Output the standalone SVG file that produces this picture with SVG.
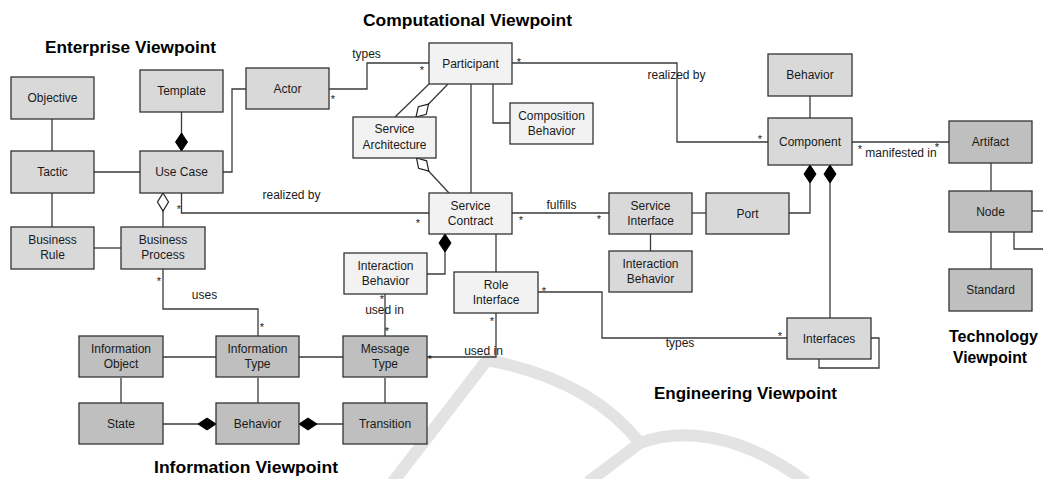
<svg xmlns="http://www.w3.org/2000/svg" width="1043" height="479" viewBox="0 0 1043 479">
<defs>
<style>
.n rect{stroke:#333;stroke-width:1.3}
.e{fill:#d9d9d9}.c{fill:#f2f2f2}.i{fill:#bfbfbf}
text{font-family:"Liberation Sans",Arial,sans-serif;fill:#1a1a1a}
.n text,.lbl{font-size:12px;text-anchor:middle}
.st{font-size:11px;text-anchor:middle}
.ttl{font-size:17px;font-weight:bold;fill:#000}
#connectors path{fill:none;stroke:#3a3a3a;stroke-width:1.3}
.wm{fill:none;stroke:#e3e3e3;stroke-width:12;stroke-linecap:butt}
</style>
<marker id="dF" markerUnits="userSpaceOnUse" markerWidth="20" markerHeight="14" viewBox="-1 -7 20 14" refX="0" refY="0" orient="auto" overflow="visible"><path d="M0,0 L9,-6 L18,0 L9,6 Z" fill="#000" stroke="#000" stroke-width="1"/></marker>
<marker id="dH" markerUnits="userSpaceOnUse" markerWidth="20" markerHeight="14" viewBox="-1 -7 20 14" refX="0" refY="0" orient="auto" overflow="visible"><path d="M0,0 L9,-5.5 L18,0 L9,5.5 Z" fill="#fff" stroke="#222" stroke-width="1.2"/></marker>
</defs>
<rect width="1043" height="479" fill="#fff"/>
<g id="watermark">
<path class="wm" d="M393,482 L487,360 C540,370 600,392 640,443"/>
<path class="wm" d="M588,482 L640,443 C680,428 740,432 806,482"/>
</g>
<g id="titles">
<text class="ttl" x="45" y="53" textLength="171" lengthAdjust="spacingAndGlyphs">Enterprise Viewpoint</text>
<text class="ttl" x="363" y="26" textLength="209" lengthAdjust="spacingAndGlyphs">Computational Viewpoint</text>
<text class="ttl" x="654" y="399" textLength="183" lengthAdjust="spacingAndGlyphs">Engineering Viewpoint</text>
<text class="ttl" x="949" y="342" textLength="89" lengthAdjust="spacingAndGlyphs">Technology</text>
<text class="ttl" x="953" y="363" textLength="74" lengthAdjust="spacingAndGlyphs">Viewpoint</text>
<text class="ttl" x="154" y="473" textLength="184" lengthAdjust="spacingAndGlyphs">Information Viewpoint</text>
</g>
<g id="connectors">
<path d="M52,119 V151"/>
<path d="M94,172 H140"/>
<path d="M52,193 V227"/>
<path d="M94,248 H121"/>
<path d="M181.5,151 V112" marker-start="url(#dF)"/>
<path d="M163,193 V227" marker-start="url(#dH)"/>
<path d="M223,172 H232 V89 H246"/>
<path d="M329,89 H367 V63 H429"/>
<path d="M181.5,193 V213 H429"/>
<path d="M429,84 L395,117"/>
<path d="M416,117 L448,84" marker-start="url(#dH)"/>
<path d="M416.5,158 L449,193" marker-start="url(#dH)"/>
<path d="M471,84 V193"/>
<path d="M493,84 V123 H510"/>
<path d="M512,63 H677 V142 H768"/>
<path d="M810,96 V118"/>
<path d="M852,142 H949"/>
<path d="M991,163 V191"/>
<path d="M1032,211 H1043"/>
<path d="M1014,232 V249 H1043"/>
<path d="M991,232 V269"/>
<path d="M810,165 V213 H789" marker-start="url(#dF)"/>
<path d="M830,165 V318" marker-start="url(#dF)"/>
<path d="M871,338 H879 V368 H819 V359"/>
<path d="M512,213 H609"/>
<path d="M692,213 H706"/>
<path d="M650.5,234 V251"/>
<path d="M445,234 V274 H427" marker-start="url(#dF)"/>
<path d="M496,234 V272"/>
<path d="M538,292 H602 V338 H787"/>
<path d="M385,294 V336"/>
<path d="M496,313 V357 H427"/>
<path d="M163,269 V309 H258 V336"/>
<path d="M163,357 H216"/>
<path d="M299,357 H343"/>
<path d="M121,378 V403"/>
<path d="M258,378 V403"/>
<path d="M385,378 V403"/>
<path d="M216,424 H163" marker-start="url(#dF)"/>
<path d="M299,424 H343" marker-start="url(#dF)"/>
</g>
<g id="labels">
<text class="lbl" x="366.5" y="58">types</text>
<text class="lbl" x="291.5" y="199">realized by</text>
<text class="lbl" x="676.5" y="79">realized by</text>
<text class="lbl" x="901" y="157">manifested in</text>
<text class="lbl" x="561.5" y="209">fulfills</text>
<text class="lbl" x="680" y="347">types</text>
<text class="lbl" x="384.5" y="314">used in</text>
<text class="lbl" x="483.5" y="355">used in</text>
<text class="lbl" x="204.5" y="299">uses</text>
<text class="st" x="333" y="103">*</text>
<text class="st" x="422" y="74">*</text>
<text class="st" x="179" y="213">*</text>
<text class="st" x="418" y="227">*</text>
<text class="st" x="519" y="66">*</text>
<text class="st" x="760" y="143">*</text>
<text class="st" x="860" y="153">*</text>
<text class="st" x="937" y="151">*</text>
<text class="st" x="521" y="224">*</text>
<text class="st" x="599" y="223">*</text>
<text class="st" x="544" y="295">*</text>
<text class="st" x="780" y="340">*</text>
<text class="st" x="382" y="303">*</text>
<text class="st" x="387" y="335">*</text>
<text class="st" x="492" y="325">*</text>
<text class="st" x="430" y="363">*</text>
<text class="st" x="159" y="285">*</text>
<text class="st" x="262" y="331">*</text>
</g>
<g id="objective" class="n"><rect class="e" x="11" y="77" width="83" height="42"/><text x="52.5" y="102.3">Objective</text></g>
<g id="template" class="n"><rect class="e" x="140" y="70" width="83" height="42"/><text x="181.5" y="95.3">Template</text></g>
<g id="actor" class="n"><rect class="e" x="246" y="68" width="83" height="41"/><text x="287.5" y="92.8">Actor</text></g>
<g id="tactic" class="n"><rect class="e" x="11" y="151" width="83" height="42"/><text x="52.5" y="176.3">Tactic</text></g>
<g id="use-case" class="n"><rect class="e" x="140" y="151" width="83" height="42"/><text x="181.5" y="176.3">Use Case</text></g>
<g id="business-rule" class="n"><rect class="e" x="11" y="227" width="83" height="42"/><text x="52.5" y="244">Business</text><text x="52.5" y="259.3">Rule</text></g>
<g id="business-process" class="n"><rect class="e" x="121" y="227" width="84" height="42"/><text x="163" y="244">Business</text><text x="163" y="259.3">Process</text></g>
<g id="participant" class="n"><rect class="c" x="429" y="43" width="83" height="41"/><text x="470.5" y="67.8">Participant</text></g>
<g id="service-architecture" class="n"><rect class="c" x="353" y="117" width="83" height="41"/><text x="394.5" y="133">Service</text><text x="394.5" y="148.5">Architecture</text></g>
<g id="composition-behavior" class="n"><rect class="c" x="510" y="103" width="83" height="41"/><text x="551.5" y="119.5">Composition</text><text x="551.5" y="135">Behavior</text></g>
<g id="service-contract" class="n"><rect class="c" x="429" y="193" width="83" height="41"/><text x="470.5" y="209.5">Service</text><text x="470.5" y="225">Contract</text></g>
<g id="service-interface" class="n"><rect class="e" x="609" y="193" width="83" height="41"/><text x="650.5" y="209.5">Service</text><text x="650.5" y="225">Interface</text></g>
<g id="interaction-behavior-eng" class="n"><rect class="e" x="609" y="251" width="83" height="41"/><text x="650.5" y="267.5">Interaction</text><text x="650.5" y="283">Behavior</text></g>
<g id="port" class="n"><rect class="e" x="706" y="193" width="83" height="41"/><text x="747.5" y="217.8">Port</text></g>
<g id="interaction-behavior-comp" class="n"><rect class="c" x="344" y="253" width="83" height="41"/><text x="385.5" y="269.5">Interaction</text><text x="385.5" y="285">Behavior</text></g>
<g id="role-interface" class="n"><rect class="c" x="454" y="272" width="84" height="41"/><text x="496" y="288.5">Role</text><text x="496" y="304">Interface</text></g>
<g id="behavior-eng" class="n"><rect class="e" x="768" y="54" width="84" height="42"/><text x="810" y="79.3">Behavior</text></g>
<g id="component" class="n"><rect class="e" x="768" y="118" width="84" height="47"/><text x="810" y="145.8">Component</text></g>
<g id="artifact" class="n"><rect class="i" x="949" y="121" width="83" height="42"/><text x="990.5" y="146.3">Artifact</text></g>
<g id="node" class="n"><rect class="i" x="949" y="191" width="83" height="41"/><text x="990.5" y="215.8">Node</text></g>
<g id="standard" class="n"><rect class="i" x="949" y="269" width="83" height="42"/><text x="990.5" y="294.3">Standard</text></g>
<g id="interfaces" class="n"><rect class="e" x="787" y="318" width="84" height="41"/><text x="829" y="342.8">Interfaces</text></g>
<g id="message-type" class="n"><rect class="i" x="343" y="336" width="84" height="41"/><text x="385" y="352.5">Message</text><text x="385" y="368">Type</text></g>
<g id="transition" class="n"><rect class="i" x="343" y="403" width="84" height="41"/><text x="385" y="427.8">Transition</text></g>
<g id="information-object" class="n"><rect class="i" x="79" y="336" width="84" height="41"/><text x="121" y="352.5">Information</text><text x="121" y="368">Object</text></g>
<g id="information-type" class="n"><rect class="i" x="216" y="336" width="83" height="41"/><text x="257.5" y="352.5">Information</text><text x="257.5" y="368">Type</text></g>
<g id="state" class="n"><rect class="i" x="79" y="403" width="84" height="41"/><text x="121" y="427.8">State</text></g>
<g id="behavior-info" class="n"><rect class="i" x="216" y="403" width="83" height="41"/><text x="257.5" y="427.8">Behavior</text></g>
</svg>
